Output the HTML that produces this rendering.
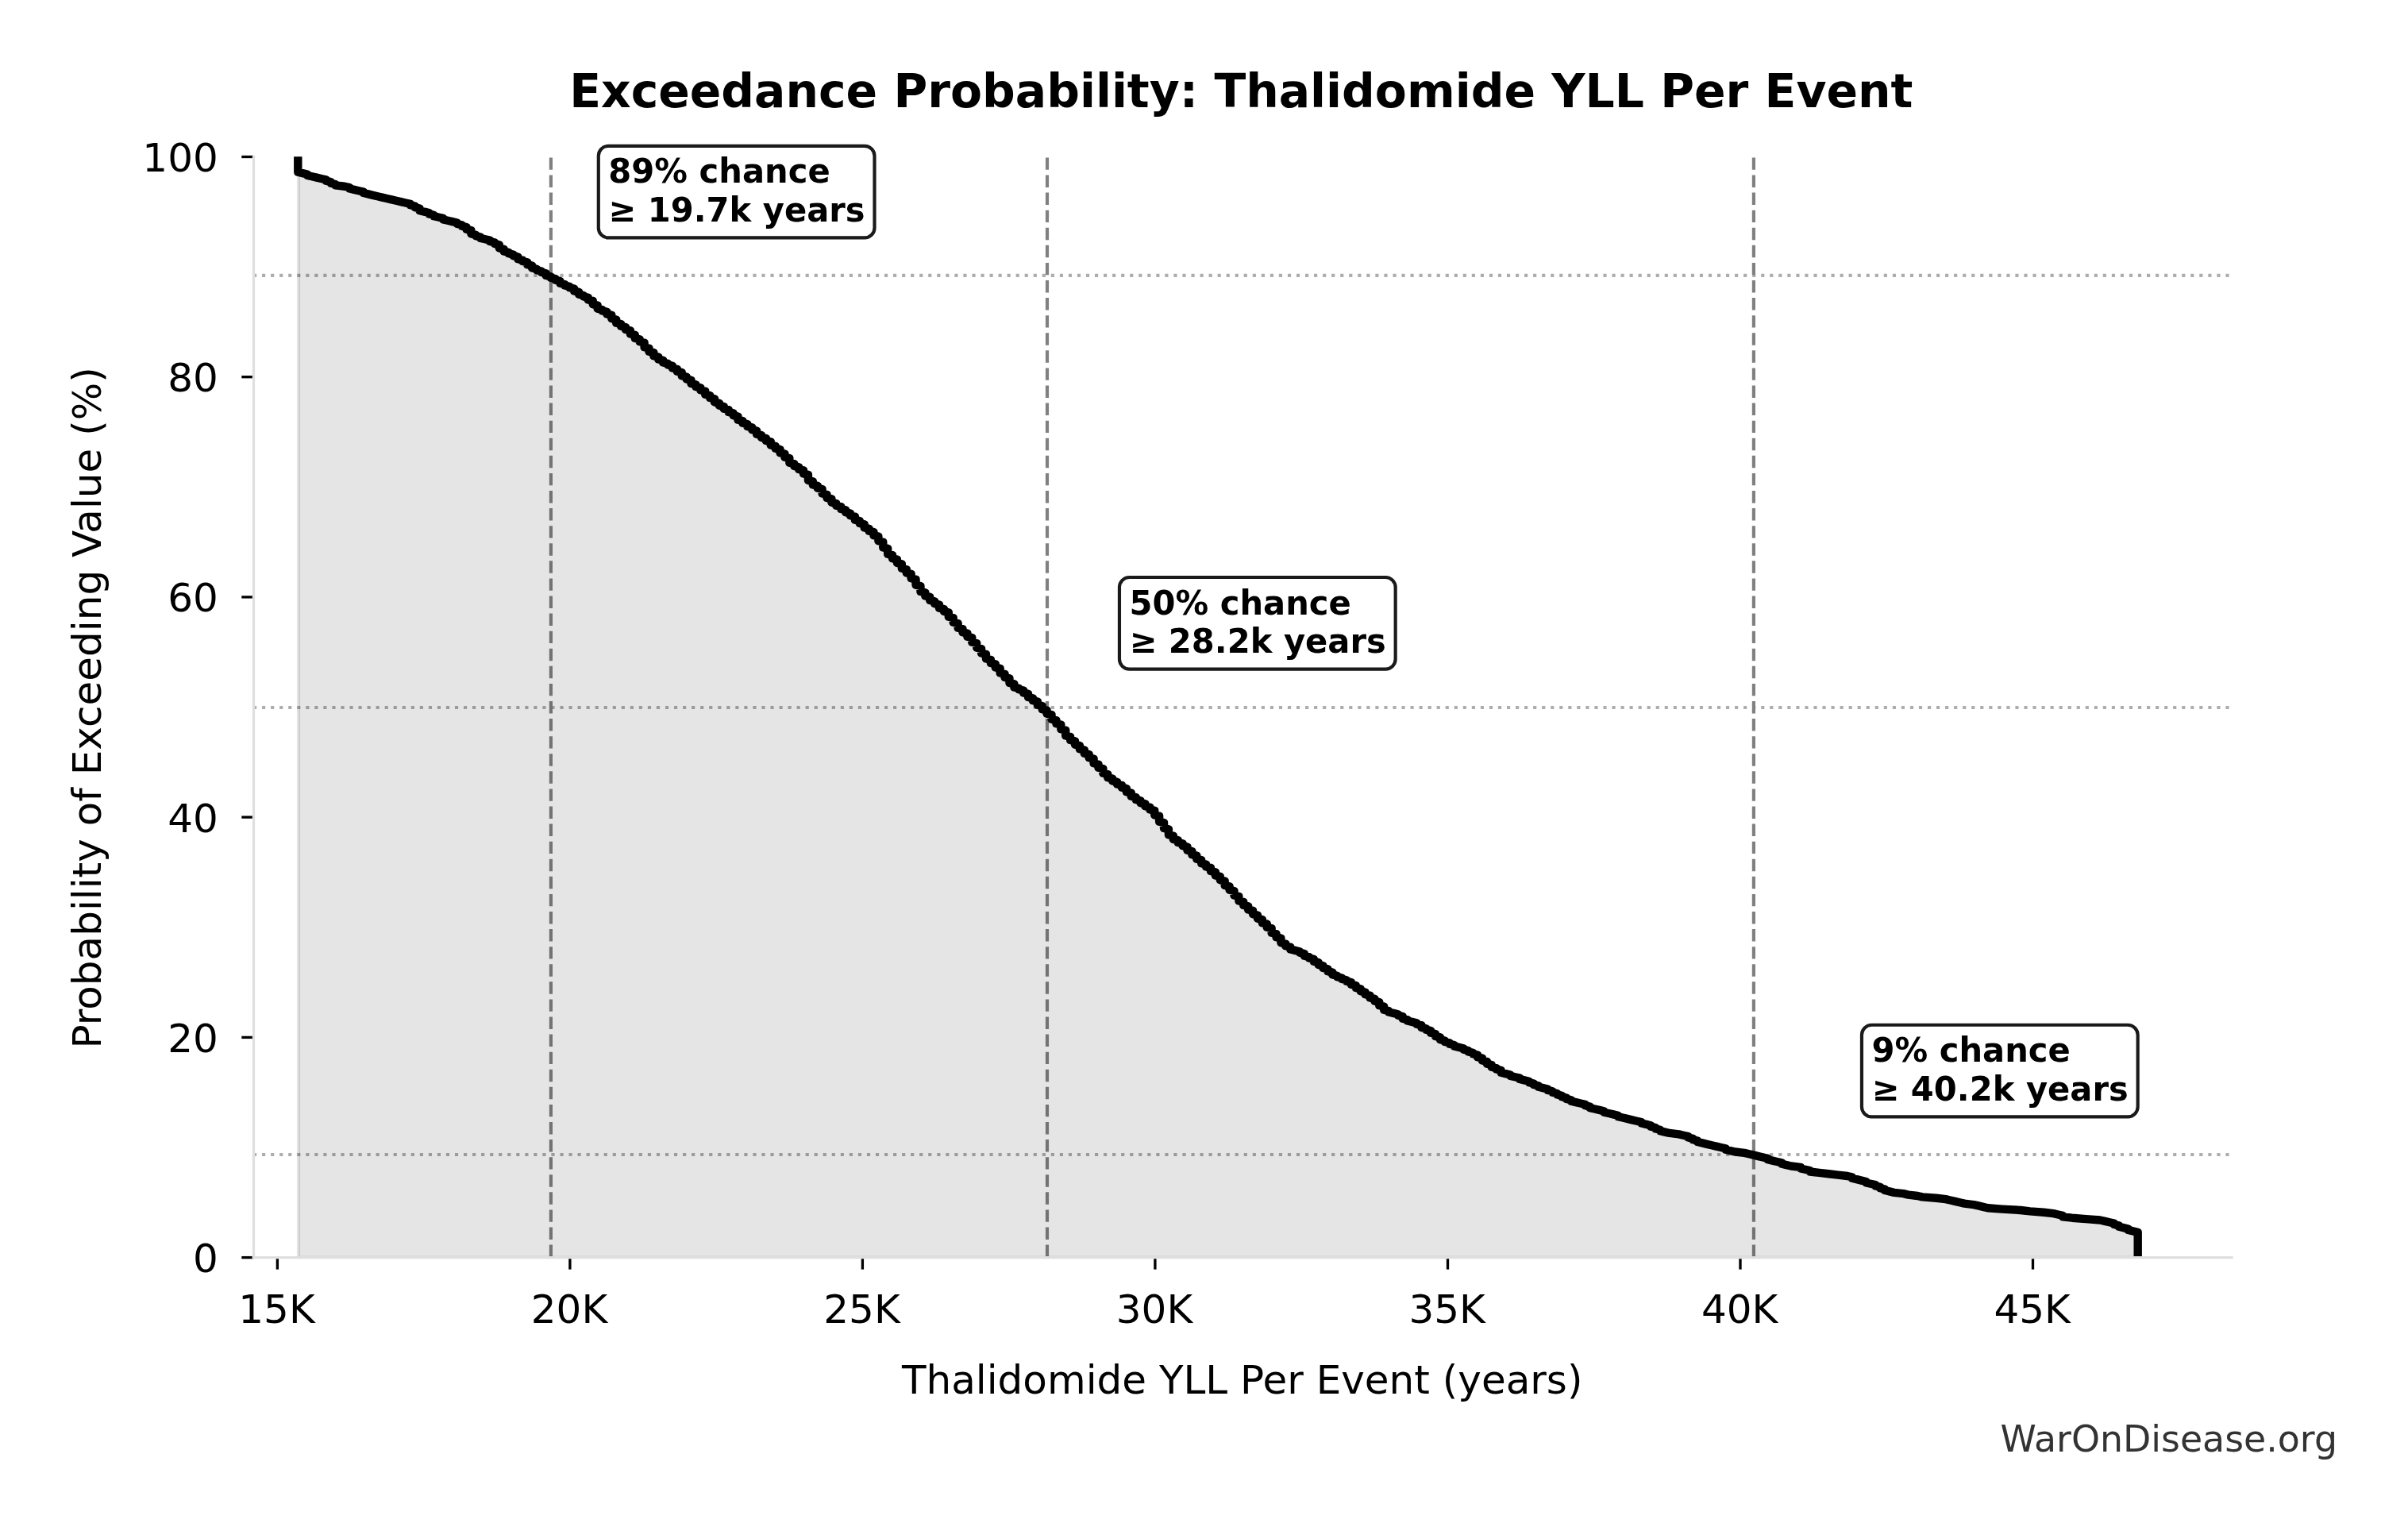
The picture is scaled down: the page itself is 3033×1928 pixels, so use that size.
<!DOCTYPE html>
<html><head><meta charset="utf-8"><title>Exceedance Probability: Thalidomide YLL Per Event</title><style>
html,body{margin:0;padding:0;background:#fff;overflow:hidden;}
svg{display:block;will-change:transform;}
text{font-family:"DejaVu Sans","Liberation Sans",sans-serif;}
</style></head><body>
<svg width="3033" height="1928" viewBox="0 0 3033 1928">
<rect x="0" y="0" width="3033" height="1928" fill="#fff"/>
<defs><clipPath id="ax"><rect x="319.4" y="197.3" width="2491.6" height="1386.3"/></clipPath></defs>
<g clip-path="url(#ax)">
<line x1="319.0" y1="346.9" x2="2811.0" y2="346.9" stroke="#adadad" stroke-width="4.17" stroke-dasharray="4.1667 6.875"/>
<line x1="319.0" y1="891.0" x2="2811.0" y2="891.0" stroke="#adadad" stroke-width="4.17" stroke-dasharray="4.1667 6.875"/>
<line x1="319.0" y1="1454.0" x2="2811.0" y2="1454.0" stroke="#adadad" stroke-width="4.17" stroke-dasharray="4.1667 6.875"/>
<line x1="693.9" y1="198.4" x2="693.9" y2="1583.6" stroke="#808080" stroke-width="4.17" stroke-dasharray="15.4167 6.6667"/>
<line x1="1319.0" y1="198.4" x2="1319.0" y2="1583.6" stroke="#808080" stroke-width="4.17" stroke-dasharray="15.4167 6.6667"/>
<line x1="2208.9" y1="198.4" x2="2208.9" y2="1583.6" stroke="#808080" stroke-width="4.17" stroke-dasharray="15.4167 6.6667"/>
<polygon points="376.00,197.30 375.30,216.71 381.18,218.09 387.07,219.48 387.07,220.87 392.97,222.25 398.86,223.64 404.76,225.03 410.66,226.41 410.66,227.80 416.55,229.18 416.55,230.57 422.45,231.96 422.45,233.34 434.24,234.73 440.14,236.12 440.14,237.50 446.03,238.89 451.93,240.28 457.82,241.66 457.82,243.05 463.72,244.43 469.62,245.82 475.51,247.21 481.41,248.59 487.30,249.98 493.20,251.37 499.10,252.75 504.99,254.14 510.89,255.52 516.78,256.91 516.78,258.30 522.68,259.68 522.68,261.07 528.58,262.46 528.58,265.23 534.47,266.62 540.37,268.00 540.37,269.39 546.26,270.77 546.26,272.16 552.16,273.55 558.06,274.93 558.06,276.32 563.95,277.71 569.85,279.09 575.74,280.48 575.74,281.86 581.64,283.25 581.64,284.64 587.54,286.02 587.54,288.80 593.43,290.18 593.43,294.34 599.33,295.73 599.33,297.11 605.22,298.50 605.22,299.89 611.12,301.27 617.02,302.66 617.02,304.05 622.91,305.43 622.91,306.82 628.81,308.20 628.81,312.36 634.70,313.75 634.70,316.52 640.60,317.91 640.60,319.29 646.50,320.68 646.50,322.07 652.39,323.45 652.39,326.23 658.29,327.61 658.29,329.00 664.18,330.38 664.18,333.16 670.08,334.54 670.08,337.32 675.98,338.70 675.98,340.09 681.87,341.48 681.87,342.86 687.77,344.25 687.77,347.02 693.66,348.41 693.66,349.79 699.56,351.18 699.56,352.57 705.46,353.95 705.46,356.72 711.35,358.11 711.35,359.50 717.25,360.88 717.25,362.27 723.14,363.66 723.14,366.43 729.04,367.81 729.04,370.59 734.94,371.97 734.94,373.36 740.83,374.75 740.83,377.52 746.73,378.91 746.73,383.06 752.62,384.45 752.62,388.61 758.52,390.00 758.52,391.38 764.42,392.77 764.42,395.54 770.31,396.93 770.31,401.09 776.21,402.47 776.21,406.63 782.10,408.02 782.10,410.79 788.00,412.18 788.00,414.95 793.90,416.34 793.90,420.49 799.79,421.88 799.79,426.04 805.69,427.43 805.69,430.20 811.58,431.58 811.58,437.13 817.48,438.52 817.48,442.68 823.38,444.06 823.38,448.22 829.27,449.61 829.27,452.38 835.17,453.77 835.17,456.54 841.06,457.92 841.06,459.31 846.96,460.70 846.96,463.47 852.86,464.86 852.86,467.63 858.75,469.01 858.75,473.17 864.65,474.56 864.65,477.33 870.54,478.72 870.54,482.88 876.44,484.26 876.44,487.04 882.34,488.42 882.34,491.20 888.23,492.58 888.23,496.74 894.13,498.13 894.13,500.90 900.02,502.29 900.02,506.44 905.92,507.83 905.92,510.60 911.82,511.99 911.82,514.76 917.71,516.15 917.71,518.92 923.61,520.31 923.61,523.08 929.50,524.47 929.50,528.63 935.40,530.01 935.40,532.78 941.30,534.17 941.30,536.94 947.19,538.33 947.19,541.10 953.09,542.49 953.09,546.65 958.98,548.03 958.98,550.81 964.88,552.19 964.88,554.97 970.78,556.35 970.78,560.51 976.67,561.90 976.67,564.67 982.57,566.06 982.57,570.21 988.46,571.60 988.46,575.76 994.36,577.15 994.36,582.69 1000.26,584.08 1000.26,586.85 1006.15,588.24 1006.15,591.01 1012.05,592.40 1012.05,596.55 1017.94,597.94 1017.94,604.87 1023.84,606.26 1023.84,610.42 1029.74,611.80 1029.74,614.58 1035.63,615.96 1035.63,621.51 1041.53,622.89 1041.53,627.05 1047.42,628.44 1047.42,632.60 1053.32,633.98 1053.32,636.76 1059.22,638.14 1059.22,640.92 1065.11,642.30 1065.11,645.07 1071.01,646.46 1071.01,649.23 1076.90,650.62 1076.90,654.78 1082.80,656.17 1082.80,658.94 1088.70,660.32 1088.70,664.48 1094.59,665.87 1094.59,668.64 1100.49,670.03 1100.49,674.19 1106.38,675.57 1106.38,681.12 1112.28,682.50 1112.28,689.44 1118.18,690.82 1118.18,697.75 1124.07,699.14 1124.07,703.30 1129.97,704.69 1129.97,708.84 1135.86,710.23 1135.86,715.78 1141.76,717.16 1141.76,721.32 1147.66,722.71 1147.66,728.25 1153.55,729.64 1153.55,736.57 1159.45,737.96 1159.45,744.89 1165.34,746.27 1165.34,750.43 1171.24,751.82 1171.24,755.98 1177.14,757.37 1177.14,760.14 1183.03,761.52 1183.03,765.68 1188.93,767.07 1188.93,769.84 1194.82,771.23 1194.82,776.77 1200.72,778.16 1200.72,783.70 1206.62,785.09 1206.62,790.64 1212.51,792.02 1212.51,796.18 1218.41,797.57 1218.41,801.73 1224.30,803.11 1224.30,808.66 1230.20,810.04 1230.20,815.59 1236.10,816.98 1236.10,822.52 1241.99,823.91 1241.99,829.45 1247.89,830.84 1247.89,835.00 1253.78,836.38 1253.78,840.54 1259.68,841.93 1259.68,847.47 1265.58,848.86 1265.58,853.02 1271.47,854.41 1271.47,859.95 1277.37,861.34 1277.37,865.50 1283.26,866.88 1283.26,868.27 1289.16,869.66 1289.16,872.43 1295.06,873.81 1295.06,877.97 1300.95,879.36 1300.95,882.13 1306.85,883.52 1306.85,887.68 1312.74,889.06 1312.74,893.22 1318.64,894.61 1318.64,898.77 1324.54,900.15 1324.54,905.70 1330.43,907.09 1330.43,911.24 1336.33,912.63 1336.33,918.18 1342.22,919.56 1342.22,926.49 1348.12,927.88 1348.12,932.04 1354.02,933.43 1354.02,937.58 1359.91,938.97 1359.91,943.13 1365.81,944.52 1365.81,948.67 1371.70,950.06 1371.70,954.22 1377.60,955.61 1377.60,961.15 1383.50,962.54 1383.50,966.70 1389.39,968.08 1389.39,973.63 1395.29,975.01 1395.29,979.17 1401.18,980.56 1401.18,983.33 1407.08,984.72 1407.08,987.49 1412.98,988.88 1412.98,991.65 1418.87,993.04 1418.87,997.20 1424.77,998.58 1424.77,1002.74 1430.66,1004.13 1430.66,1006.90 1436.56,1008.29 1436.56,1011.06 1442.46,1012.44 1442.46,1015.22 1448.35,1016.60 1448.35,1019.38 1454.25,1020.76 1454.25,1026.31 1460.14,1027.69 1460.14,1034.63 1466.04,1036.01 1466.04,1042.94 1471.94,1044.33 1471.94,1051.26 1477.83,1052.65 1477.83,1056.81 1483.73,1058.19 1483.73,1060.96 1489.62,1062.35 1489.62,1065.12 1495.52,1066.51 1495.52,1070.67 1501.42,1072.06 1501.42,1076.21 1507.31,1077.60 1507.31,1081.76 1513.21,1083.15 1513.21,1087.30 1519.10,1088.69 1519.10,1091.46 1525.00,1092.85 1525.00,1097.01 1530.90,1098.39 1530.90,1102.55 1536.79,1103.94 1536.79,1108.10 1542.69,1109.49 1542.69,1115.03 1548.58,1116.42 1548.58,1120.58 1554.48,1121.96 1554.48,1127.51 1560.38,1128.89 1560.38,1134.44 1566.27,1135.83 1566.27,1139.98 1572.17,1141.37 1572.17,1145.53 1578.06,1146.92 1578.06,1151.07 1583.96,1152.46 1583.96,1156.62 1589.86,1158.01 1589.86,1162.16 1595.75,1163.55 1595.75,1167.71 1601.65,1169.10 1601.65,1174.64 1607.54,1176.03 1607.54,1180.19 1613.44,1181.57 1613.44,1187.12 1619.34,1188.50 1619.34,1191.28 1625.23,1192.66 1625.23,1195.44 1631.13,1196.82 1637.02,1198.21 1637.02,1199.59 1642.92,1200.98 1642.92,1203.75 1648.82,1205.14 1648.82,1206.53 1654.71,1207.91 1654.71,1210.69 1660.61,1212.07 1660.61,1214.84 1666.50,1216.23 1666.50,1219.00 1672.40,1220.39 1672.40,1223.16 1678.30,1224.55 1678.30,1227.32 1684.19,1228.71 1684.19,1230.09 1690.09,1231.48 1690.09,1232.87 1695.98,1234.25 1695.98,1235.64 1701.88,1237.02 1701.88,1239.80 1707.78,1241.18 1707.78,1243.96 1713.67,1245.34 1713.67,1248.12 1719.57,1249.50 1719.57,1252.27 1725.46,1253.66 1725.46,1256.43 1731.36,1257.82 1731.36,1260.59 1737.26,1261.98 1737.26,1266.14 1743.15,1267.52 1743.15,1271.68 1749.05,1273.07 1749.05,1274.46 1754.94,1275.84 1760.84,1277.23 1760.84,1278.61 1766.74,1280.00 1766.74,1282.77 1772.63,1284.16 1772.63,1285.55 1778.53,1286.93 1784.42,1288.32 1784.42,1289.70 1790.32,1291.09 1790.32,1293.86 1796.22,1295.25 1796.22,1296.64 1802.11,1298.02 1802.11,1300.79 1808.01,1302.18 1808.01,1304.95 1813.90,1306.34 1813.90,1309.11 1819.80,1310.50 1819.80,1311.89 1825.70,1313.27 1825.70,1314.66 1831.59,1316.04 1831.59,1317.43 1837.49,1318.82 1843.38,1320.20 1843.38,1321.59 1849.28,1322.98 1849.28,1324.36 1855.18,1325.75 1855.18,1327.13 1861.07,1328.52 1861.07,1331.29 1866.97,1332.68 1866.97,1335.45 1872.86,1336.84 1872.86,1339.61 1878.76,1341.00 1878.76,1343.77 1884.66,1345.16 1884.66,1346.54 1890.55,1347.93 1890.55,1350.70 1896.45,1352.09 1902.34,1353.47 1902.34,1354.86 1908.24,1356.25 1914.14,1357.63 1914.14,1359.02 1920.03,1360.41 1925.93,1361.79 1925.93,1363.18 1931.82,1364.56 1931.82,1365.95 1937.72,1367.34 1937.72,1368.72 1943.62,1370.11 1949.51,1371.50 1949.51,1372.88 1955.41,1374.27 1955.41,1375.65 1961.30,1377.04 1961.30,1378.43 1967.20,1379.81 1967.20,1381.20 1973.10,1382.59 1973.10,1383.97 1978.99,1385.36 1978.99,1386.75 1984.89,1388.13 1990.78,1389.52 1996.68,1390.90 1996.68,1392.29 2002.58,1393.68 2002.58,1395.06 2008.47,1396.45 2014.37,1397.84 2020.26,1399.22 2020.26,1400.61 2026.16,1401.99 2032.06,1403.38 2037.95,1404.77 2037.95,1406.15 2043.85,1407.54 2049.74,1408.93 2055.64,1410.31 2061.54,1411.70 2067.43,1413.09 2067.43,1414.47 2073.33,1415.86 2079.22,1417.24 2079.22,1418.63 2085.12,1420.02 2085.12,1421.40 2091.02,1422.79 2091.02,1424.18 2096.91,1425.56 2102.81,1426.95 2114.60,1428.33 2120.50,1429.72 2126.39,1431.11 2126.39,1432.49 2132.29,1433.88 2132.29,1435.27 2138.18,1436.65 2138.18,1438.04 2144.08,1439.42 2149.98,1440.81 2155.87,1442.20 2161.77,1443.58 2167.66,1444.97 2173.56,1446.36 2173.56,1447.74 2179.46,1449.13 2185.35,1450.52 2197.14,1451.90 2203.04,1453.29 2208.94,1454.67 2214.83,1456.06 2220.73,1457.45 2226.62,1458.83 2226.62,1460.22 2232.52,1461.61 2238.42,1462.99 2244.31,1464.38 2244.31,1465.76 2250.21,1467.15 2256.10,1468.54 2267.90,1469.92 2267.90,1471.31 2273.79,1472.70 2279.69,1474.08 2279.69,1475.47 2291.48,1476.85 2303.27,1478.24 2315.06,1479.63 2326.86,1481.01 2332.75,1482.40 2332.75,1483.79 2338.65,1485.17 2344.54,1486.56 2350.44,1487.95 2350.44,1489.33 2356.34,1490.72 2362.23,1492.10 2362.23,1493.49 2368.13,1494.88 2368.13,1496.26 2374.02,1497.65 2374.02,1499.04 2379.92,1500.42 2385.82,1501.81 2397.61,1503.19 2403.50,1504.58 2415.30,1505.97 2421.19,1507.35 2438.88,1508.74 2450.67,1510.13 2456.57,1511.51 2462.46,1512.90 2468.36,1514.28 2474.26,1515.67 2486.05,1517.06 2491.94,1518.44 2497.84,1519.83 2503.74,1521.22 2521.42,1522.60 2545.01,1523.99 2556.80,1525.38 2574.49,1526.76 2586.28,1528.15 2592.18,1529.53 2598.07,1530.92 2598.07,1532.31 2609.86,1533.69 2627.55,1535.08 2645.24,1536.47 2651.14,1537.85 2657.03,1539.24 2662.93,1540.62 2662.93,1542.01 2668.82,1543.40 2668.82,1544.78 2674.72,1546.17 2680.62,1547.56 2680.62,1548.94 2686.51,1550.33 2692.70,1551.72 2692.70,1583.60 2692.70,1583.60 376.00,1583.60" fill="#000" fill-opacity="0.1" stroke="#000" stroke-opacity="0.1" stroke-width="4.17" stroke-linejoin="round"/>
<polyline points="375.30,197.30 375.30,216.71 381.18,218.09 387.07,219.48 387.07,220.87 392.97,222.25 398.86,223.64 404.76,225.03 410.66,226.41 410.66,227.80 416.55,229.18 416.55,230.57 422.45,231.96 422.45,233.34 434.24,234.73 440.14,236.12 440.14,237.50 446.03,238.89 451.93,240.28 457.82,241.66 457.82,243.05 463.72,244.43 469.62,245.82 475.51,247.21 481.41,248.59 487.30,249.98 493.20,251.37 499.10,252.75 504.99,254.14 510.89,255.52 516.78,256.91 516.78,258.30 522.68,259.68 522.68,261.07 528.58,262.46 528.58,265.23 534.47,266.62 540.37,268.00 540.37,269.39 546.26,270.77 546.26,272.16 552.16,273.55 558.06,274.93 558.06,276.32 563.95,277.71 569.85,279.09 575.74,280.48 575.74,281.86 581.64,283.25 581.64,284.64 587.54,286.02 587.54,288.80 593.43,290.18 593.43,294.34 599.33,295.73 599.33,297.11 605.22,298.50 605.22,299.89 611.12,301.27 617.02,302.66 617.02,304.05 622.91,305.43 622.91,306.82 628.81,308.20 628.81,312.36 634.70,313.75 634.70,316.52 640.60,317.91 640.60,319.29 646.50,320.68 646.50,322.07 652.39,323.45 652.39,326.23 658.29,327.61 658.29,329.00 664.18,330.38 664.18,333.16 670.08,334.54 670.08,337.32 675.98,338.70 675.98,340.09 681.87,341.48 681.87,342.86 687.77,344.25 687.77,347.02 693.66,348.41 693.66,349.79 699.56,351.18 699.56,352.57 705.46,353.95 705.46,356.72 711.35,358.11 711.35,359.50 717.25,360.88 717.25,362.27 723.14,363.66 723.14,366.43 729.04,367.81 729.04,370.59 734.94,371.97 734.94,373.36 740.83,374.75 740.83,377.52 746.73,378.91 746.73,383.06 752.62,384.45 752.62,388.61 758.52,390.00 758.52,391.38 764.42,392.77 764.42,395.54 770.31,396.93 770.31,401.09 776.21,402.47 776.21,406.63 782.10,408.02 782.10,410.79 788.00,412.18 788.00,414.95 793.90,416.34 793.90,420.49 799.79,421.88 799.79,426.04 805.69,427.43 805.69,430.20 811.58,431.58 811.58,437.13 817.48,438.52 817.48,442.68 823.38,444.06 823.38,448.22 829.27,449.61 829.27,452.38 835.17,453.77 835.17,456.54 841.06,457.92 841.06,459.31 846.96,460.70 846.96,463.47 852.86,464.86 852.86,467.63 858.75,469.01 858.75,473.17 864.65,474.56 864.65,477.33 870.54,478.72 870.54,482.88 876.44,484.26 876.44,487.04 882.34,488.42 882.34,491.20 888.23,492.58 888.23,496.74 894.13,498.13 894.13,500.90 900.02,502.29 900.02,506.44 905.92,507.83 905.92,510.60 911.82,511.99 911.82,514.76 917.71,516.15 917.71,518.92 923.61,520.31 923.61,523.08 929.50,524.47 929.50,528.63 935.40,530.01 935.40,532.78 941.30,534.17 941.30,536.94 947.19,538.33 947.19,541.10 953.09,542.49 953.09,546.65 958.98,548.03 958.98,550.81 964.88,552.19 964.88,554.97 970.78,556.35 970.78,560.51 976.67,561.90 976.67,564.67 982.57,566.06 982.57,570.21 988.46,571.60 988.46,575.76 994.36,577.15 994.36,582.69 1000.26,584.08 1000.26,586.85 1006.15,588.24 1006.15,591.01 1012.05,592.40 1012.05,596.55 1017.94,597.94 1017.94,604.87 1023.84,606.26 1023.84,610.42 1029.74,611.80 1029.74,614.58 1035.63,615.96 1035.63,621.51 1041.53,622.89 1041.53,627.05 1047.42,628.44 1047.42,632.60 1053.32,633.98 1053.32,636.76 1059.22,638.14 1059.22,640.92 1065.11,642.30 1065.11,645.07 1071.01,646.46 1071.01,649.23 1076.90,650.62 1076.90,654.78 1082.80,656.17 1082.80,658.94 1088.70,660.32 1088.70,664.48 1094.59,665.87 1094.59,668.64 1100.49,670.03 1100.49,674.19 1106.38,675.57 1106.38,681.12 1112.28,682.50 1112.28,689.44 1118.18,690.82 1118.18,697.75 1124.07,699.14 1124.07,703.30 1129.97,704.69 1129.97,708.84 1135.86,710.23 1135.86,715.78 1141.76,717.16 1141.76,721.32 1147.66,722.71 1147.66,728.25 1153.55,729.64 1153.55,736.57 1159.45,737.96 1159.45,744.89 1165.34,746.27 1165.34,750.43 1171.24,751.82 1171.24,755.98 1177.14,757.37 1177.14,760.14 1183.03,761.52 1183.03,765.68 1188.93,767.07 1188.93,769.84 1194.82,771.23 1194.82,776.77 1200.72,778.16 1200.72,783.70 1206.62,785.09 1206.62,790.64 1212.51,792.02 1212.51,796.18 1218.41,797.57 1218.41,801.73 1224.30,803.11 1224.30,808.66 1230.20,810.04 1230.20,815.59 1236.10,816.98 1236.10,822.52 1241.99,823.91 1241.99,829.45 1247.89,830.84 1247.89,835.00 1253.78,836.38 1253.78,840.54 1259.68,841.93 1259.68,847.47 1265.58,848.86 1265.58,853.02 1271.47,854.41 1271.47,859.95 1277.37,861.34 1277.37,865.50 1283.26,866.88 1283.26,868.27 1289.16,869.66 1289.16,872.43 1295.06,873.81 1295.06,877.97 1300.95,879.36 1300.95,882.13 1306.85,883.52 1306.85,887.68 1312.74,889.06 1312.74,893.22 1318.64,894.61 1318.64,898.77 1324.54,900.15 1324.54,905.70 1330.43,907.09 1330.43,911.24 1336.33,912.63 1336.33,918.18 1342.22,919.56 1342.22,926.49 1348.12,927.88 1348.12,932.04 1354.02,933.43 1354.02,937.58 1359.91,938.97 1359.91,943.13 1365.81,944.52 1365.81,948.67 1371.70,950.06 1371.70,954.22 1377.60,955.61 1377.60,961.15 1383.50,962.54 1383.50,966.70 1389.39,968.08 1389.39,973.63 1395.29,975.01 1395.29,979.17 1401.18,980.56 1401.18,983.33 1407.08,984.72 1407.08,987.49 1412.98,988.88 1412.98,991.65 1418.87,993.04 1418.87,997.20 1424.77,998.58 1424.77,1002.74 1430.66,1004.13 1430.66,1006.90 1436.56,1008.29 1436.56,1011.06 1442.46,1012.44 1442.46,1015.22 1448.35,1016.60 1448.35,1019.38 1454.25,1020.76 1454.25,1026.31 1460.14,1027.69 1460.14,1034.63 1466.04,1036.01 1466.04,1042.94 1471.94,1044.33 1471.94,1051.26 1477.83,1052.65 1477.83,1056.81 1483.73,1058.19 1483.73,1060.96 1489.62,1062.35 1489.62,1065.12 1495.52,1066.51 1495.52,1070.67 1501.42,1072.06 1501.42,1076.21 1507.31,1077.60 1507.31,1081.76 1513.21,1083.15 1513.21,1087.30 1519.10,1088.69 1519.10,1091.46 1525.00,1092.85 1525.00,1097.01 1530.90,1098.39 1530.90,1102.55 1536.79,1103.94 1536.79,1108.10 1542.69,1109.49 1542.69,1115.03 1548.58,1116.42 1548.58,1120.58 1554.48,1121.96 1554.48,1127.51 1560.38,1128.89 1560.38,1134.44 1566.27,1135.83 1566.27,1139.98 1572.17,1141.37 1572.17,1145.53 1578.06,1146.92 1578.06,1151.07 1583.96,1152.46 1583.96,1156.62 1589.86,1158.01 1589.86,1162.16 1595.75,1163.55 1595.75,1167.71 1601.65,1169.10 1601.65,1174.64 1607.54,1176.03 1607.54,1180.19 1613.44,1181.57 1613.44,1187.12 1619.34,1188.50 1619.34,1191.28 1625.23,1192.66 1625.23,1195.44 1631.13,1196.82 1637.02,1198.21 1637.02,1199.59 1642.92,1200.98 1642.92,1203.75 1648.82,1205.14 1648.82,1206.53 1654.71,1207.91 1654.71,1210.69 1660.61,1212.07 1660.61,1214.84 1666.50,1216.23 1666.50,1219.00 1672.40,1220.39 1672.40,1223.16 1678.30,1224.55 1678.30,1227.32 1684.19,1228.71 1684.19,1230.09 1690.09,1231.48 1690.09,1232.87 1695.98,1234.25 1695.98,1235.64 1701.88,1237.02 1701.88,1239.80 1707.78,1241.18 1707.78,1243.96 1713.67,1245.34 1713.67,1248.12 1719.57,1249.50 1719.57,1252.27 1725.46,1253.66 1725.46,1256.43 1731.36,1257.82 1731.36,1260.59 1737.26,1261.98 1737.26,1266.14 1743.15,1267.52 1743.15,1271.68 1749.05,1273.07 1749.05,1274.46 1754.94,1275.84 1760.84,1277.23 1760.84,1278.61 1766.74,1280.00 1766.74,1282.77 1772.63,1284.16 1772.63,1285.55 1778.53,1286.93 1784.42,1288.32 1784.42,1289.70 1790.32,1291.09 1790.32,1293.86 1796.22,1295.25 1796.22,1296.64 1802.11,1298.02 1802.11,1300.79 1808.01,1302.18 1808.01,1304.95 1813.90,1306.34 1813.90,1309.11 1819.80,1310.50 1819.80,1311.89 1825.70,1313.27 1825.70,1314.66 1831.59,1316.04 1831.59,1317.43 1837.49,1318.82 1843.38,1320.20 1843.38,1321.59 1849.28,1322.98 1849.28,1324.36 1855.18,1325.75 1855.18,1327.13 1861.07,1328.52 1861.07,1331.29 1866.97,1332.68 1866.97,1335.45 1872.86,1336.84 1872.86,1339.61 1878.76,1341.00 1878.76,1343.77 1884.66,1345.16 1884.66,1346.54 1890.55,1347.93 1890.55,1350.70 1896.45,1352.09 1902.34,1353.47 1902.34,1354.86 1908.24,1356.25 1914.14,1357.63 1914.14,1359.02 1920.03,1360.41 1925.93,1361.79 1925.93,1363.18 1931.82,1364.56 1931.82,1365.95 1937.72,1367.34 1937.72,1368.72 1943.62,1370.11 1949.51,1371.50 1949.51,1372.88 1955.41,1374.27 1955.41,1375.65 1961.30,1377.04 1961.30,1378.43 1967.20,1379.81 1967.20,1381.20 1973.10,1382.59 1973.10,1383.97 1978.99,1385.36 1978.99,1386.75 1984.89,1388.13 1990.78,1389.52 1996.68,1390.90 1996.68,1392.29 2002.58,1393.68 2002.58,1395.06 2008.47,1396.45 2014.37,1397.84 2020.26,1399.22 2020.26,1400.61 2026.16,1401.99 2032.06,1403.38 2037.95,1404.77 2037.95,1406.15 2043.85,1407.54 2049.74,1408.93 2055.64,1410.31 2061.54,1411.70 2067.43,1413.09 2067.43,1414.47 2073.33,1415.86 2079.22,1417.24 2079.22,1418.63 2085.12,1420.02 2085.12,1421.40 2091.02,1422.79 2091.02,1424.18 2096.91,1425.56 2102.81,1426.95 2114.60,1428.33 2120.50,1429.72 2126.39,1431.11 2126.39,1432.49 2132.29,1433.88 2132.29,1435.27 2138.18,1436.65 2138.18,1438.04 2144.08,1439.42 2149.98,1440.81 2155.87,1442.20 2161.77,1443.58 2167.66,1444.97 2173.56,1446.36 2173.56,1447.74 2179.46,1449.13 2185.35,1450.52 2197.14,1451.90 2203.04,1453.29 2208.94,1454.67 2214.83,1456.06 2220.73,1457.45 2226.62,1458.83 2226.62,1460.22 2232.52,1461.61 2238.42,1462.99 2244.31,1464.38 2244.31,1465.76 2250.21,1467.15 2256.10,1468.54 2267.90,1469.92 2267.90,1471.31 2273.79,1472.70 2279.69,1474.08 2279.69,1475.47 2291.48,1476.85 2303.27,1478.24 2315.06,1479.63 2326.86,1481.01 2332.75,1482.40 2332.75,1483.79 2338.65,1485.17 2344.54,1486.56 2350.44,1487.95 2350.44,1489.33 2356.34,1490.72 2362.23,1492.10 2362.23,1493.49 2368.13,1494.88 2368.13,1496.26 2374.02,1497.65 2374.02,1499.04 2379.92,1500.42 2385.82,1501.81 2397.61,1503.19 2403.50,1504.58 2415.30,1505.97 2421.19,1507.35 2438.88,1508.74 2450.67,1510.13 2456.57,1511.51 2462.46,1512.90 2468.36,1514.28 2474.26,1515.67 2486.05,1517.06 2491.94,1518.44 2497.84,1519.83 2503.74,1521.22 2521.42,1522.60 2545.01,1523.99 2556.80,1525.38 2574.49,1526.76 2586.28,1528.15 2592.18,1529.53 2598.07,1530.92 2598.07,1532.31 2609.86,1533.69 2627.55,1535.08 2645.24,1536.47 2651.14,1537.85 2657.03,1539.24 2662.93,1540.62 2662.93,1542.01 2668.82,1543.40 2668.82,1544.78 2674.72,1546.17 2680.62,1547.56 2680.62,1548.94 2686.51,1550.33 2692.70,1551.72 2692.70,1583.60 2692.70,1583.60" fill="none" stroke="#000" stroke-width="10.42" stroke-linejoin="round" stroke-linecap="square"/>
</g>
<line x1="304.3" y1="197.5" x2="319.4" y2="197.5" stroke="#000" stroke-width="3.33"/>
<line x1="304.3" y1="474.7" x2="319.4" y2="474.7" stroke="#000" stroke-width="3.33"/>
<line x1="304.3" y1="751.9" x2="319.4" y2="751.9" stroke="#000" stroke-width="3.33"/>
<line x1="304.3" y1="1029.1" x2="319.4" y2="1029.1" stroke="#000" stroke-width="3.33"/>
<line x1="304.3" y1="1306.4" x2="319.4" y2="1306.4" stroke="#000" stroke-width="3.33"/>
<line x1="304.3" y1="1583.6" x2="319.4" y2="1583.6" stroke="#000" stroke-width="3.33"/>
<line x1="349.4" y1="1583.6" x2="349.4" y2="1598.6" stroke="#000" stroke-width="3.33"/>
<line x1="717.9" y1="1583.6" x2="717.9" y2="1598.6" stroke="#000" stroke-width="3.33"/>
<line x1="1086.4" y1="1583.6" x2="1086.4" y2="1598.6" stroke="#000" stroke-width="3.33"/>
<line x1="1454.9" y1="1583.6" x2="1454.9" y2="1598.6" stroke="#000" stroke-width="3.33"/>
<line x1="1823.5" y1="1583.6" x2="1823.5" y2="1598.6" stroke="#000" stroke-width="3.33"/>
<line x1="2192.0" y1="1583.6" x2="2192.0" y2="1598.6" stroke="#000" stroke-width="3.33"/>
<line x1="2560.5" y1="1583.6" x2="2560.5" y2="1598.6" stroke="#000" stroke-width="3.33"/>
<line x1="319.5" y1="197.3" x2="319.5" y2="1583.6" stroke="#dfdfdf" stroke-width="3.33" stroke-linecap="square"/>
<line x1="319.4" y1="1583.6" x2="2811.0" y2="1583.6" stroke="#dfdfdf" stroke-width="3.33" stroke-linecap="square"/>
<text x="274.8" y="215.9" font-size="50" text-anchor="end">100</text>
<text x="274.8" y="493.1" font-size="50" text-anchor="end">80</text>
<text x="274.8" y="770.3" font-size="50" text-anchor="end">60</text>
<text x="274.8" y="1047.5" font-size="50" text-anchor="end">40</text>
<text x="274.8" y="1324.8" font-size="50" text-anchor="end">20</text>
<text x="274.8" y="1602.0" font-size="50" text-anchor="end">0</text>
<text x="348.5" y="1665.8" font-size="50" text-anchor="middle">15K</text>
<text x="717.0" y="1665.8" font-size="50" text-anchor="middle">20K</text>
<text x="1085.5" y="1665.8" font-size="50" text-anchor="middle">25K</text>
<text x="1454.0" y="1665.8" font-size="50" text-anchor="middle">30K</text>
<text x="1822.6" y="1665.8" font-size="50" text-anchor="middle">35K</text>
<text x="2191.1" y="1665.8" font-size="50" text-anchor="middle">40K</text>
<text x="2559.6" y="1665.8" font-size="50" text-anchor="middle">45K</text>
<text x="1564.7" y="1755.1" font-size="50" text-anchor="middle">Thalidomide YLL Per Event (years)</text>
<text transform="translate(127.3,891.4) rotate(-90)" x="0" y="0" font-size="50" text-anchor="middle">Probability of Exceeding Value (%)</text>
<text x="1563.3" y="134.8" font-size="58.33" font-weight="bold" text-anchor="middle">Exceedance Probability: Thalidomide YLL Per Event</text>
<rect x="753.80" y="183.80" width="347.7" height="115.6" rx="12.5" ry="12.5" fill="#fff" stroke="#1a1a1a" stroke-width="4.17"/>
<text transform="translate(766.30,230.10) scale(1,1.033)" font-size="41.67" font-weight="bold">89% chance</text>
<text transform="translate(766.30,278.90) scale(1,1.033)" font-size="41.67" font-weight="bold">≥ 19.7k years</text>
<rect x="1409.95" y="727.00" width="347.7" height="115.6" rx="12.5" ry="12.5" fill="#fff" stroke="#1a1a1a" stroke-width="4.17"/>
<text transform="translate(1422.45,774.00) scale(1,1.033)" font-size="41.67" font-weight="bold">50% chance</text>
<text transform="translate(1422.45,822.10) scale(1,1.033)" font-size="41.67" font-weight="bold">≥ 28.2k years</text>
<rect x="2344.95" y="1290.75" width="347.7" height="115.6" rx="12.5" ry="12.5" fill="#fff" stroke="#1a1a1a" stroke-width="4.17"/>
<text transform="translate(2357.45,1336.85) scale(1,1.033)" font-size="41.67" font-weight="bold">9% chance</text>
<text transform="translate(2357.45,1385.85) scale(1,1.033)" font-size="41.67" font-weight="bold">≥ 40.2k years</text>
<text x="2944" y="1827.8" font-size="45.83" fill="#333333" text-anchor="end">WarOnDisease.org</text>
</svg>
</body></html>
